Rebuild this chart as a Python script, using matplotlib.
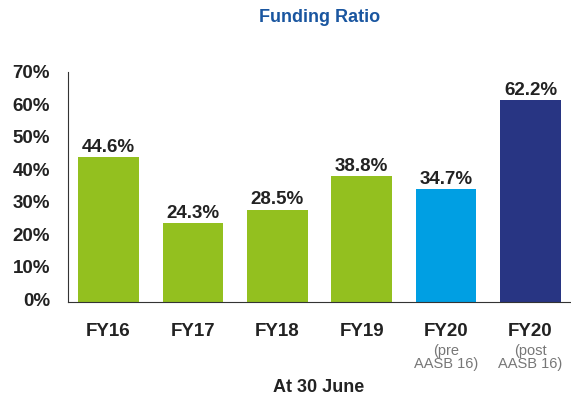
import matplotlib
matplotlib.use("Agg")
import matplotlib.pyplot as plt
from matplotlib.transforms import offset_copy

categories = ["FY16", "FY17", "FY18", "FY19", "FY20", "FY20"]
sublabels = ["", "", "", "", "(pre\nAASB 16)", "(post\nAASB 16)"]
values = [44.6, 24.3, 28.5, 38.8, 34.7, 62.2]
colors = ["#93C01F", "#93C01F", "#93C01F", "#93C01F", "#009FE3", "#283583"]
yticks = [0, 10, 20, 30, 40, 50, 60, 70]

plt.rcParams['font.family'] = ['Liberation Sans', 'DejaVu Sans']

fig = plt.figure(figsize=(5.71, 4.0), dpi=100)
ax = fig.add_axes([68/571, 1 - 302/400, 1 - 68/571, 230/400])

x = list(range(len(categories)))
ax.bar(x, values, width=0.72, color=colors, zorder=2)
for xi, v in zip(x, values):
    ax.text(xi, v + 0.5, f"{v:.1f}%", ha="center", va="bottom",
            fontsize=13.5, fontweight="bold", color="#222222")

ax.set_xlim(-0.48, len(categories) - 0.52)
ax.set_ylim(0, 70.9)
ax.set_yticks(yticks)
ax.set_yticklabels([f"{t}%" for t in yticks], fontsize=13.5, fontweight="bold", color="#222222")
ax.tick_params(axis="y", length=0, pad=13)
for lbl in ax.get_yticklabels():
    lbl.set_transform(offset_copy(lbl.get_transform(), fig=fig, x=0, y=3, units="dots"))
ax.set_xticks(x)
ax.set_xticklabels(categories, fontsize=13.5, fontweight="bold", color="#222222")
ax.tick_params(axis="x", length=0, pad=15)
for xi, s in zip(x, sublabels):
    if s:
        ax.annotate(s, xy=(xi, 0), xycoords=("data", "axes fraction"),
                    xytext=(0, -30), textcoords="offset points",
                    ha="center", va="top", fontsize=10.5, color="#777777",
                    linespacing=0.9)

for s in ["top", "right"]:
    ax.spines[s].set_visible(False)
ax.spines["left"].set_color("#333333")
ax.spines["bottom"].set_color("#333333")
ax.spines["left"].set_linewidth(0.8)
ax.spines["bottom"].set_linewidth(0.8)

fig.text(320/571, 1 - 18/400, "Funding Ratio", ha="center", va="center",
         fontsize=13, fontweight="bold", color="#1A56A0")
fig.text(319/571, 1 - 388/400, "At 30 June", ha="center", va="center",
         fontsize=13, fontweight="bold", color="#222222")

fig.savefig("out.png", dpi=100)
